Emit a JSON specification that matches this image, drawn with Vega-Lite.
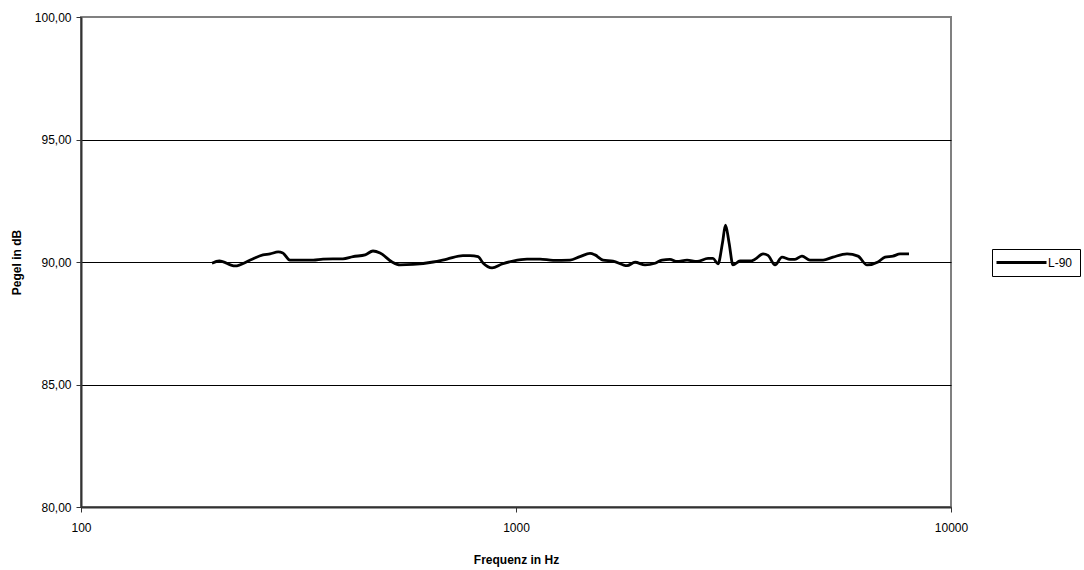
{
"$schema": "https://vega.github.io/schema/vega-lite/v6.json",
"width": 870, "height": 490,
"autosize": {"type": "none"},
"padding": {"left": 81, "top": 17, "right": 133, "bottom": 63},
"background": "white",
"config": {"view": {"stroke": "#808080", "strokeWidth": 2}, "font": "Liberation Sans"},
"data": {"values": [
{"f":200,"dB":89.95,"s":"L-90"},{"f":208,"dB":90.04,"s":"L-90"},{"f":226,"dB":89.84,"s":"L-90"},{"f":245,"dB":90.08,"s":"L-90"},
{"f":262,"dB":90.29,"s":"L-90"},{"f":272,"dB":90.33,"s":"L-90"},{"f":284,"dB":90.41,"s":"L-90"},{"f":291,"dB":90.37,"s":"L-90"},
{"f":302,"dB":90.08,"s":"L-90"},{"f":342,"dB":90.08,"s":"L-90"},{"f":360,"dB":90.12,"s":"L-90"},{"f":400,"dB":90.13,"s":"L-90"},
{"f":422,"dB":90.22,"s":"L-90"},{"f":450,"dB":90.29,"s":"L-90"},{"f":469,"dB":90.45,"s":"L-90"},{"f":487,"dB":90.37,"s":"L-90"},
{"f":519,"dB":90.0,"s":"L-90"},{"f":541,"dB":89.88,"s":"L-90"},{"f":580,"dB":89.9,"s":"L-90"},{"f":645,"dB":90.0,"s":"L-90"},
{"f":694,"dB":90.12,"s":"L-90"},{"f":755,"dB":90.26,"s":"L-90"},{"f":784,"dB":90.26,"s":"L-90"},{"f":818,"dB":90.22,"s":"L-90"},
{"f":840,"dB":89.96,"s":"L-90"},{"f":881,"dB":89.76,"s":"L-90"},{"f":929,"dB":89.92,"s":"L-90"},{"f":984,"dB":90.04,"s":"L-90"},
{"f":1060,"dB":90.12,"s":"L-90"},{"f":1136,"dB":90.12,"s":"L-90"},{"f":1217,"dB":90.07,"s":"L-90"},{"f":1331,"dB":90.08,"s":"L-90"},
{"f":1403,"dB":90.22,"s":"L-90"},{"f":1480,"dB":90.35,"s":"L-90"},{"f":1519,"dB":90.29,"s":"L-90"},{"f":1585,"dB":90.08,"s":"L-90"},
{"f":1671,"dB":90.04,"s":"L-90"},{"f":1800,"dB":89.85,"s":"L-90"},{"f":1878,"dB":89.99,"s":"L-90"},{"f":1980,"dB":89.88,"s":"L-90"},
{"f":2087,"dB":89.95,"s":"L-90"},{"f":2166,"dB":90.08,"s":"L-90"},{"f":2259,"dB":90.11,"s":"L-90"},{"f":2345,"dB":90.02,"s":"L-90"},
{"f":2473,"dB":90.08,"s":"L-90"},{"f":2607,"dB":90.02,"s":"L-90"},{"f":2764,"dB":90.15,"s":"L-90"},{"f":2838,"dB":90.15,"s":"L-90"},
{"f":2913,"dB":89.92,"s":"L-90"},{"f":2984,"dB":90.8,"s":"L-90"},{"f":3031,"dB":91.5,"s":"L-90"},{"f":3088,"dB":90.8,"s":"L-90"},
{"f":3154,"dB":89.88,"s":"L-90"},{"f":3273,"dB":90.04,"s":"L-90"},{"f":3451,"dB":90.04,"s":"L-90"},{"f":3543,"dB":90.11,"s":"L-90"},
{"f":3697,"dB":90.33,"s":"L-90"},{"f":3796,"dB":90.27,"s":"L-90"},{"f":3940,"dB":89.88,"s":"L-90"},{"f":4088,"dB":90.2,"s":"L-90"},
{"f":4265,"dB":90.11,"s":"L-90"},{"f":4379,"dB":90.11,"s":"L-90"},{"f":4545,"dB":90.24,"s":"L-90"},{"f":4741,"dB":90.08,"s":"L-90"},
{"f":5079,"dB":90.08,"s":"L-90"},{"f":5355,"dB":90.2,"s":"L-90"},{"f":5767,"dB":90.33,"s":"L-90"},{"f":6113,"dB":90.24,"s":"L-90"},
{"f":6411,"dB":89.88,"s":"L-90"},{"f":6796,"dB":90.0,"s":"L-90"},{"f":7052,"dB":90.2,"s":"L-90"},{"f":7357,"dB":90.24,"s":"L-90"},
{"f":7635,"dB":90.33,"s":"L-90"},{"f":8006,"dB":90.33,"s":"L-90"}
]},
"mark": {"type": "line", "interpolate": "monotone", "strokeWidth": 2.8},
"encoding": {
"x": {"field": "f", "type": "quantitative", "scale": {"type": "log", "domain": [100, 10000]},
 "axis": {"values": [100, 1000, 10000], "format": "d", "grid": false, "title": "Frequenz in Hz",
 "titleFontWeight": "bold", "titleFontSize": 12, "titleColor": "black", "labelFontSize": 12, "labelColor": "black",
 "domainColor": "#333333", "domainWidth": 2, "tickColor": "#333333", "tickSize": 5, "labelPadding": 10,
 "titleY": 56, "titleBaseline": "alphabetic", "labelFlush": false, "labelOverlap": false}},
"y": {"field": "dB", "type": "quantitative", "scale": {"domain": [80, 100], "zero": false},
 "axis": {"values": [80, 85, 90, 95, 100], "labelExpr": "replace(format(datum.value,'.2f'),'.',',')",
 "grid": true, "gridColor": "black", "gridWidth": 1,
 "gridOpacity": {"condition": {"test": "datum.value == 80 || datum.value == 100", "value": 0}, "value": 1},
 "title": "Pegel in dB", "titleFontWeight": "bold", "titleFontSize": 12, "titleColor": "black",
 "labelFontSize": 12, "labelColor": "black", "domainColor": "#333333", "domainWidth": 2,
 "tickColor": "#333333", "tickSize": 5, "labelPadding": 5, "titleX": -58, "titleBaseline": "bottom", "labelOverlap": false}},
"color": {"field": "s", "type": "nominal", "scale": {"domain": ["L-90"], "range": ["black"]},
 "legend": {"orient": "none", "legendX": 911, "legendY": 232, "title": null, "symbolType": "M-5,0H5",
 "symbolSize": 100, "symbolOffset": 16, "symbolStrokeWidth": 2.8, "strokeColor": "black", "padding": 7, "fillColor": "white",
 "labelFontSize": 12, "labelColor": "black", "labelOffset": 20, "cornerRadius": 0}}
}
}
